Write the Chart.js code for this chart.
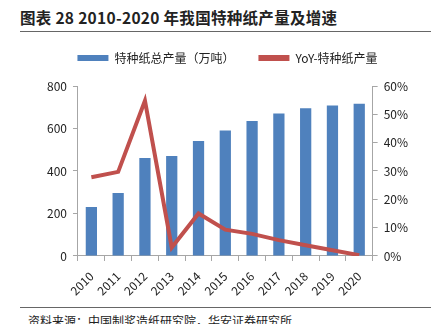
<!DOCTYPE html>
<html>
<head>
<meta charset="utf-8">
<script src="https://cdn.jsdelivr.net/npm/chart.js@4/dist/chart.umd.min.js"></script>
<style>
    body { margin: 0; width: 431px; height: 324px; overflow: hidden; background: #fff; font-family: "Noto Sans CJK SC", sans-serif; position: relative; }
    #title { position: absolute; left: 20px; top: 6px; font-size: 15.5px; font-weight: bold; color: #222; letter-spacing: 0.3px; }
    #topline { position: absolute; left: 20px; right: 0; top: 31px; border-top: 1px solid #666; }
    #bottomline { position: absolute; left: 20px; right: 0; top: 307px; border-top: 1px solid #666; }
    #source { position: absolute; left: 28px; top: 312px; font-size: 12px; color: #222; white-space: nowrap; }
    #wrap { position: absolute; left: 0; top: 28px; width: 431px; height: 278px; }
</style>
</head>
<body>
<div id="title">图表 28 2010-2020 年我国特种纸产量及增速</div>
<div id="topline"></div>
<div id="wrap"><canvas id="chart"></canvas></div>
<div id="bottomline"></div>
<div id="source">资料来源：中国制浆造纸研究院，华安证券研究所</div>
<script>
// data
const years = ['2010', '2011', '2012', '2013', '2014', '2015', '2016', '2017', '2018', '2019', '2020'];
const output = [230, 297, 461, 470, 541, 590, 635, 670, 695, 708, 716];   // 万吨
const yoy = [27.8, 29.7, 54.8, 3.0, 15.0, 9.3, 7.8, 5.6, 3.8, 2.0, 0.3];   // %

const axisGrey = '#a6a6a6';
const tickFont = { family: '"Noto Sans CJK SC", sans-serif', size: 12 };

// extra room under the legend
const legendGap = {
    id: 'legendGap',
    beforeInit(chart) {
        const fit = chart.legend.fit;
        chart.legend.fit = function () {
            fit.bind(chart.legend)();
            this.height += 12;
        };
    }
};

new Chart(document.getElementById('chart'), {
    data: {
        labels: years,
        datasets: [{
            type: 'line',
            label: 'YoY-特种纸产量',
            data: yoy,
            yAxisID: 'y1',
            borderColor: '#c0504d',
            backgroundColor: '#c0504d',
            borderWidth: 4,
            pointRadius: 0,
            tension: 0,
            order: 0,
        }, {
            type: 'bar',
            label: '特种纸总产量（万吨）',
            data: output,
            yAxisID: 'y',
            backgroundColor: '#4f81bd',
            barPercentage: 0.42,
            categoryPercentage: 1,
            order: 1,
        }]
    },
    options: {
        responsive: true,
        maintainAspectRatio: false,
        animation: false,
        layout: { padding: { left: 41, right: 17, top: 0, bottom: 0 } },
        plugins: {
            tooltip: { enabled: false },
            legend: {
                reverse: true,
                labels: {
                    color: '#222',
                    font: tickFont,
                    boxWidth: 31,
                    boxHeight: 6,
                    padding: 24,
                    generateLabels: (chart) => Chart.defaults.plugins.legend.labels.generateLabels(chart)
                        .map(item => Object.assign(item, { lineWidth: 0 })),
                },
            },
        },
        scales: {
            x: {
                grid: { drawOnChartArea: false, drawTicks: true, tickLength: 5, color: axisGrey },
                border: { color: axisGrey },
                ticks: { color: '#222', font: tickFont, maxRotation: 45, minRotation: 45, padding: 8 },
            },
            y: {
                position: 'left',
                min: 0, max: 800,
                ticks: { stepSize: 200, color: '#222', font: tickFont, padding: 6 },
                grid: { drawOnChartArea: false, drawTicks: true, tickLength: 5, color: axisGrey },
                border: { color: axisGrey },
            },
            y1: {
                position: 'right',
                min: 0, max: 60,
                ticks: { stepSize: 10, color: '#222', font: tickFont, padding: 6, callback: v => v + '%' },
                grid: { drawOnChartArea: false, drawTicks: true, tickLength: 5, color: axisGrey },
                border: { color: axisGrey },
            },
        },
    },
    plugins: [legendGap],
});
</script>
</body>
</html>
